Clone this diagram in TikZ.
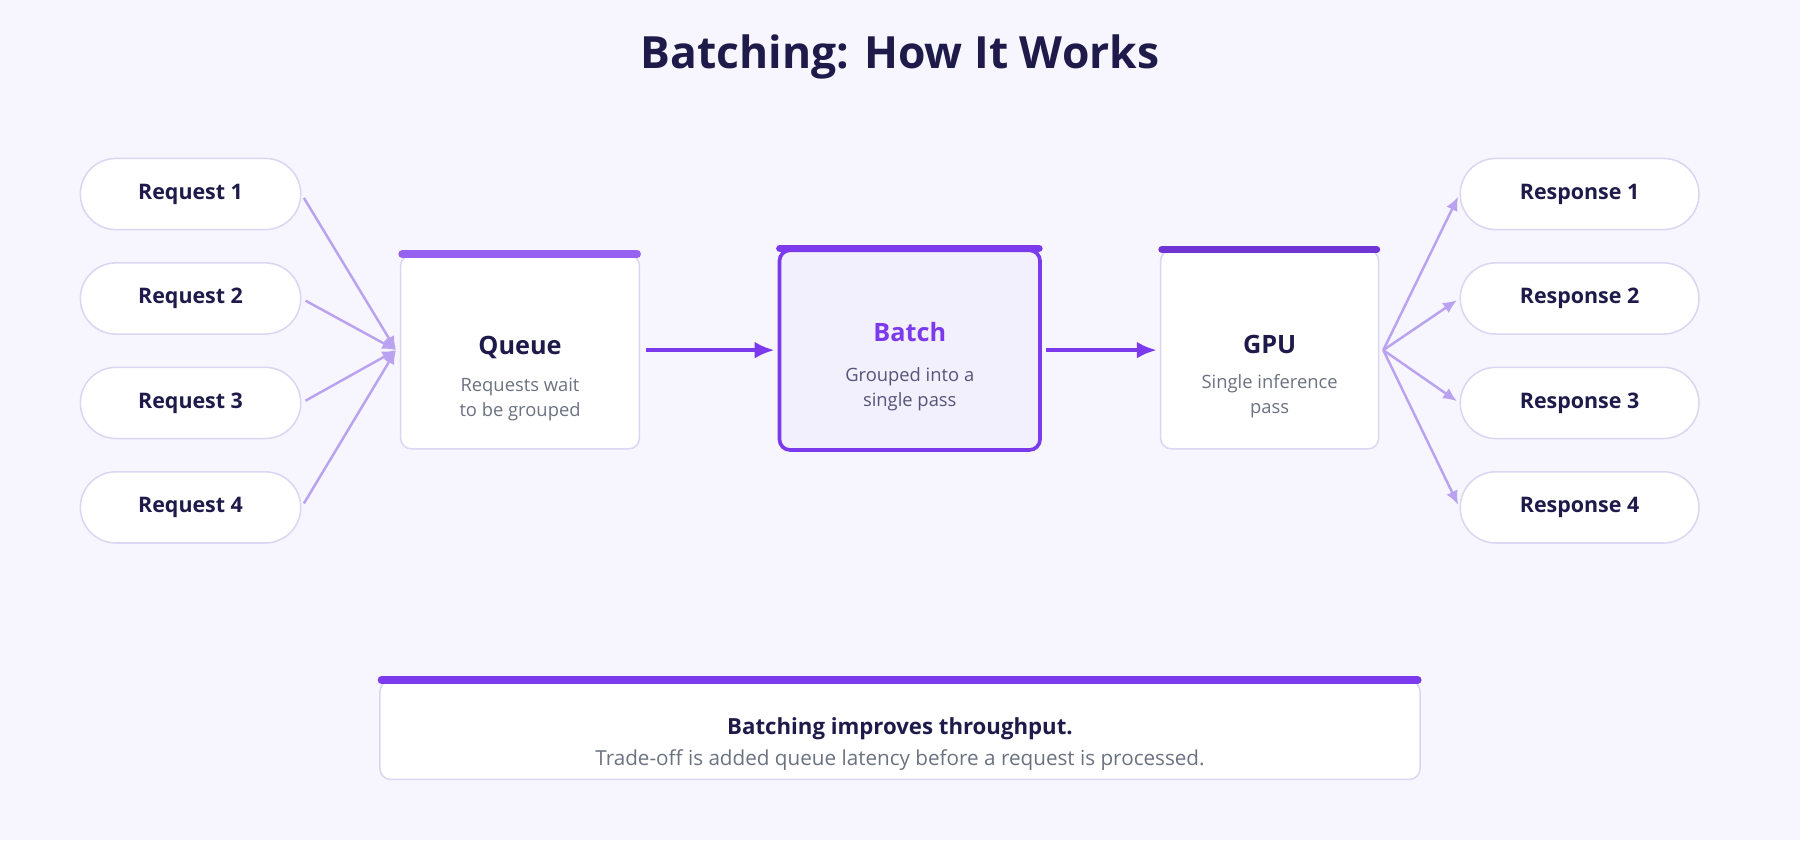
\documentclass[tikz,border=0pt]{standalone}
\usepackage{fontspec}
\setmainfont{Open Sans}
\usetikzlibrary{arrows.meta,positioning}
\definecolor{bgc}{HTML}{F7F5FE}
\definecolor{ink}{HTML}{1E1B4B}
\definecolor{violet}{HTML}{7C3AED}
\definecolor{lilac}{HTML}{B9A3F0}
\definecolor{edge}{HTML}{DCD6F2}
\definecolor{mute}{HTML}{6B7280}
\definecolor{batchfill}{HTML}{F3F0FE}
\tikzset{
  pill/.style={draw=edge, line width=1pt, fill=white, rounded corners=31*0.75pt,
    minimum width=192*0.75pt, minimum height=62*0.75pt, font=\fontsize{14}{18}\selectfont\bfseries, text=ink},
  stage/.style={draw=edge, line width=1pt, fill=white, rounded corners=7pt},
  head/.style={font=\fontsize{16.5}{20}\selectfont\bfseries, text=ink},
  sub/.style={font=\fontsize{12}{16}\selectfont, text=mute, align=center},
  topbar/.style={line width=5pt, line cap=round},
  fan/.style={draw=lilac, line width=1.6pt, -{Latex[length=9pt,width=8pt]}},
  flow/.style={draw=violet, line width=2.6pt, -{Latex[length=13pt,width=11pt]}}
}
\begin{document}
\begin{tikzpicture}[x=0.75pt,y=-0.75pt]
  \fill[bgc] (0,0) rectangle (1568,732);
  \useasboundingbox (0,0) rectangle (1568,732);

  \node[font=\fontsize{29}{36}\selectfont\bfseries, text=ink] (title) at (784,50) {Batching: How It Works};

  % inputs and outputs
  \foreach \i/\y in {1/169,2/260,3/351,4/442}{
    \node[pill] (req\i) at (166,\y) {Request \i};
    \node[pill, minimum width=208*0.75pt] (res\i) at (1376,\y) {Response \i};
  }

  % stages
  \node[stage, minimum width=208*0.75pt, minimum height=169*0.75pt] (queue) at (453,306.5) {};
  \draw[topbar, violet!80] (queue.north west) ++(2,0) -- ([xshift=-2]queue.north east);
  \node[head] (queuet) at (453,303) {Queue};
  \node[sub] (queues) at (453,348) {Requests wait\\to be grouped};

  \node[stage, draw=violet, line width=2.4pt, fill=batchfill, minimum width=227*0.75pt, minimum height=174*0.75pt] (batch) at (792.5,305) {};
  \draw[topbar, violet] (batch.north west) ++(2,0) -- ([xshift=-2]batch.north east);
  \node[head, text=violet] (batcht) at (792.5,289) {Batch};
  \node[sub, text=ink!75] (batchs) at (792.5,339) {Grouped into a\\single pass};

  \node[stage, minimum width=190*0.75pt, minimum height=173*0.75pt] (gpu) at (1106,304.5) {};
  \draw[topbar, violet!90!black] (gpu.north west) ++(2,0) -- ([xshift=-2]gpu.north east);
  \node[head] (gput) at (1106,300) {GPU};
  \node[sub] (gpus) at (1106,345) {Single inference\\pass};

  % connectors
  \coordinate (qin) at (345,305);
  \coordinate (gout) at (1205,305);
  \foreach \i in {1,...,4}{
    \draw[fan, shorten <=3pt] (req\i.east) -- (qin);
    \draw[fan, shorten >=2pt] (gout) -- (res\i.west);
  }
  \draw[flow, shorten <=4pt, shorten >=2pt] (queue.east |- qin) -- (batch.west |- qin);
  \draw[flow, shorten <=3pt, shorten >=2pt] (batch.east |- qin) -- (gpu.west |- qin);

  % footer note
  \node[stage, minimum width=906*0.75pt, minimum height=86*0.75pt] (note) at (784,636) {};
  \draw[topbar, violet] (note.north west) ++(2,0) -- ([xshift=-2]note.north east);
  \node[font=\fontsize{14.5}{18}\selectfont\bfseries, text=ink] (notet) at (784,635) {Batching improves throughput.};
  \node[font=\fontsize{13.5}{17}\selectfont, text=mute] (notes) at (784,662) {Trade-off is added queue latency before a request is processed.};
\end{tikzpicture}
\end{document}
